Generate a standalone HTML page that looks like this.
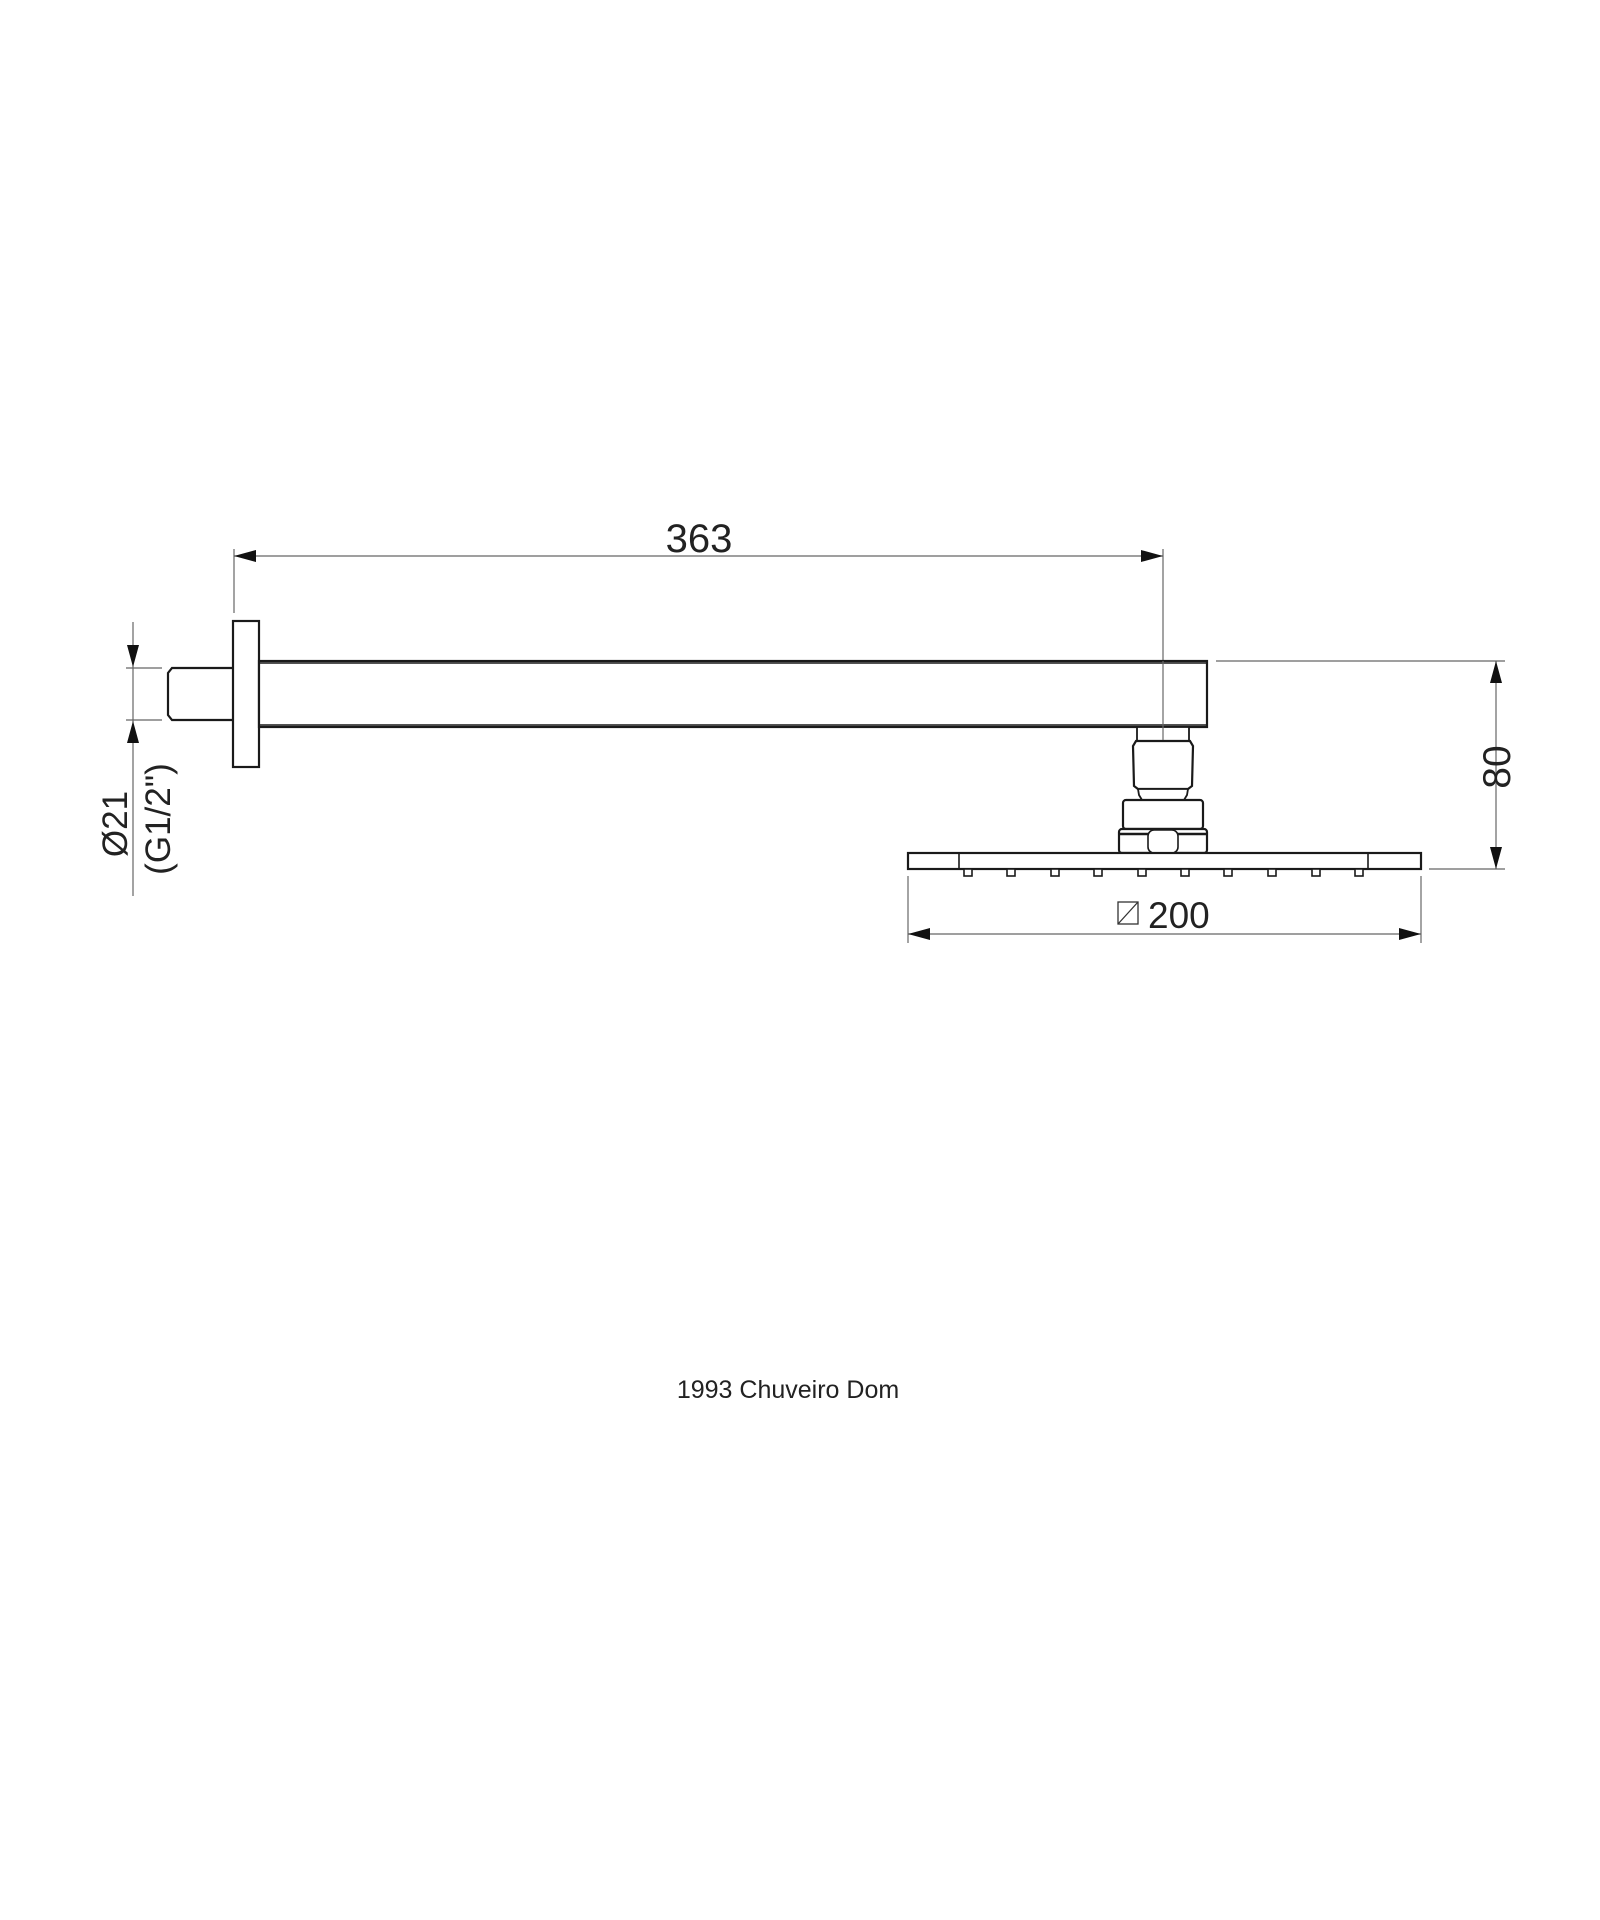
<!DOCTYPE html>
<html><head><style>html,body{margin:0;padding:0;background:#fff}svg{display:block}</style></head>
<body>
<svg width="1600" height="1920" viewBox="0 0 1600 1920" xmlns="http://www.w3.org/2000/svg" font-family="Liberation Sans, Arial, sans-serif">
<rect width="1600" height="1920" fill="#fff"/>
<g stroke="#666" stroke-width="1.2" fill="none">
  <line x1="234" y1="556" x2="1163" y2="556"/>
  <line x1="234" y1="549" x2="234" y2="613"/>
  <line x1="1163" y1="549" x2="1163" y2="740"/>
  <line x1="133" y1="622" x2="133" y2="896"/>
  <line x1="126" y1="668" x2="162" y2="668"/>
  <line x1="126" y1="720" x2="162" y2="720"/>
  <line x1="1496" y1="661" x2="1496" y2="869"/>
  <line x1="1216" y1="661" x2="1505" y2="661"/>
  <line x1="1429" y1="869" x2="1505" y2="869"/>
  <line x1="908" y1="934" x2="1421" y2="934"/>
  <line x1="908" y1="876" x2="908" y2="943"/>
  <line x1="1421" y1="876" x2="1421" y2="943"/>
</g>
<g fill="#111">
  <polygon points="234,556 256,550 256,562"/>
  <polygon points="1163,556 1141,550 1141,562"/>
  <polygon points="133,667 127,645 139,645"/>
  <polygon points="133,721 127,743 139,743"/>
  <polygon points="1496,661 1490,683 1502,683"/>
  <polygon points="1496,869 1490,847 1502,847"/>
  <polygon points="908,934 930,928 930,940"/>
  <polygon points="1421,934 1399,928 1399,940"/>
</g>
<g stroke="#1a1a1a" stroke-width="2.2" fill="#fff">
  <path d="M233,668 L172,668 L168,673 L168,715 L172,720 L233,720"/>
  <rect x="233" y="621" width="26" height="146"/>
  <rect x="259" y="661" width="948" height="66"/>
  <line x1="259" y1="663" x2="1207" y2="663" stroke-width="1.5"/>
  <line x1="259" y1="725" x2="1207" y2="725" stroke-width="1.5"/>
  <rect x="1137" y="727" width="52" height="14" stroke-width="1.8"/>
  <path d="M1136,741 L1190,741 L1193,746 L1192,786 L1188,789 L1138,789 L1134,786 L1133,746 Z"/>
  <path d="M1138,789 L1188,789 L1187,795 L1184,800 L1142,800 L1139,795 Z" stroke-width="1.8"/>
  <rect x="1123" y="800" width="80" height="29" rx="3"/>
  <rect x="1119" y="829" width="88" height="24" rx="3"/>
  <line x1="1119" y1="834" x2="1207" y2="834" stroke-width="2.5"/>
  <rect x="1148" y="830" width="30" height="23" rx="6" stroke-width="1.6"/>
  <rect x="908" y="853" width="513" height="16"/>
  <line x1="959" y1="853" x2="959" y2="869" stroke-width="1.6"/>
  <line x1="1368" y1="853" x2="1368" y2="869" stroke-width="1.6"/>
</g>
<line x1="1163" y1="661" x2="1163" y2="740" stroke="#666" stroke-width="1.2"/>
<g stroke="#1a1a1a" stroke-width="1.6" fill="#fff">
  <rect x="964" y="869" width="8" height="7"/>
  <rect x="1007" y="869" width="8" height="7"/>
  <rect x="1051" y="869" width="8" height="7"/>
  <rect x="1094" y="869" width="8" height="7"/>
  <rect x="1138" y="869" width="8" height="7"/>
  <rect x="1181" y="869" width="8" height="7"/>
  <rect x="1224" y="869" width="8" height="7"/>
  <rect x="1268" y="869" width="8" height="7"/>
  <rect x="1312" y="869" width="8" height="7"/>
  <rect x="1355" y="869" width="8" height="7"/>
</g>
<g fill="#222">
  <text x="699" y="552" font-size="40" text-anchor="middle">363</text>
  <text transform="translate(1510,767) rotate(-90)" font-size="39" text-anchor="middle">80</text>
  <text x="1148" y="928" font-size="37">200</text>
  <text transform="translate(127,824) rotate(-90)" font-size="35" text-anchor="middle">Ø21</text>
  <text transform="translate(170,819) rotate(-90)" font-size="35" text-anchor="middle">(G1/2")</text>
  <text x="788" y="1398" font-size="25" text-anchor="middle">1993 Chuveiro Dom</text>
</g>
<g stroke="#333" stroke-width="1.3" fill="none">
  <rect x="1118" y="902" width="20" height="22"/>
  <line x1="1118" y1="924" x2="1138" y2="902"/>
</g>
</svg>
</body></html>
